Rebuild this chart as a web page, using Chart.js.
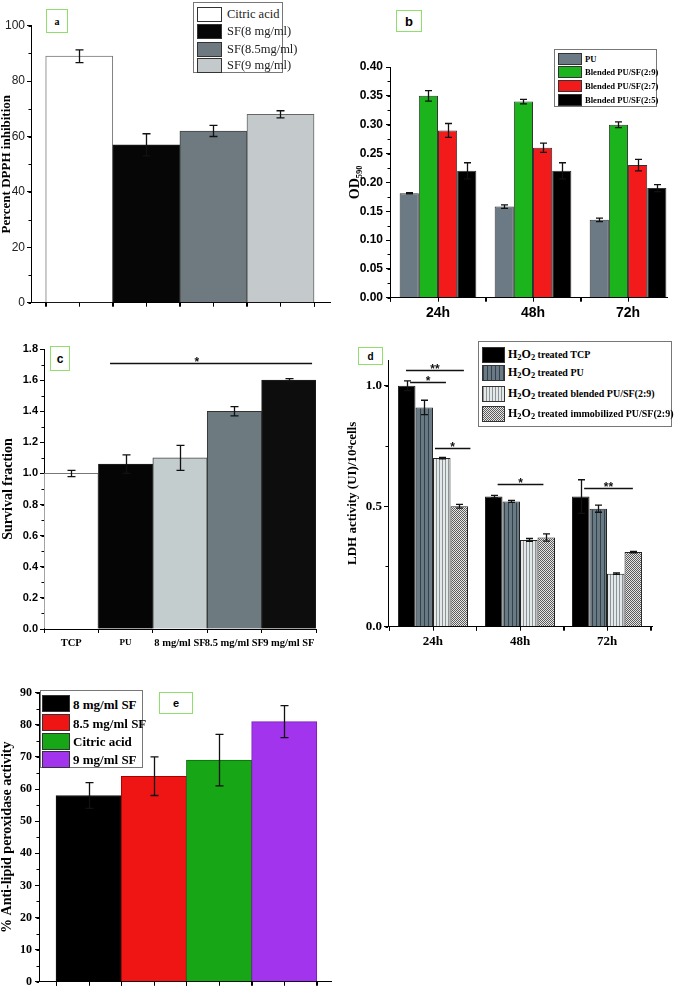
<!DOCTYPE html>
<html>
<head>
<meta charset="utf-8">
<script src="https://cdn.jsdelivr.net/npm/chart.js@4.4.1/dist/chart.umd.min.js"></script>
<style>
body{margin:0;background:#fff;}
#page{position:relative;width:682px;height:992px;overflow:hidden;background:#fff;}
canvas{position:absolute;}
.tag{position:absolute;border:1.5px solid #8fdf6c;background:#fff;box-sizing:border-box;display:flex;align-items:center;justify-content:center;font-weight:bold;}
.leg{position:absolute;border:1px solid #777;background:#fff;box-sizing:border-box;}
.sw{position:absolute;box-sizing:border-box;border:1px solid #333;}
.lt{position:absolute;white-space:nowrap;font-family:"Liberation Serif","Times New Roman",serif;transform:translateY(-50%);line-height:1;}
.lt sub{font-size:70%;vertical-align:-0.25em;}
.h2{font-size:12px;}
</style>
</head>
<body>
<div id="page"></div>
<script>
// ---- panel a: DPPH
const aLabels=['Citric acid','SF(8 mg/ml)','SF(8.5mg/ml)','SF(9 mg/ml)']
const aValues=[89,57,62,68]
const aErrors=[2.3,4,2,1.3]
const aColors=['#ffffff','#060606','#6f7a80','#c4cacb']

// ---- panel b: OD590
const bTimes=['24h','48h','72h']
const bSeries=['PU','Blended PU/SF(2:9)','Blended PU/SF(2:7)','Blended PU/SF(2:5)']
const bPU=[0.181,0.158,0.135]
const bPU29=[0.350,0.340,0.300]
const bPU27=[0.290,0.260,0.230]
const bPU25=[0.220,0.220,0.190]
const bErrPU=[0.001,0.003,0.003]
const bErr29=[0.009,0.004,0.005]
const bErr27=[0.012,0.008,0.010]
const bErr25=[0.014,0.014,0.006]
const bColors=['#6b7a84','#1cb41c','#f21a1a','#000000']

// ---- panel c: survival
const cLabels=['TCP','PU','8 mg/ml SF','8.5 mg/ml SF','9 mg/ml SF']
const cValues=[1.00,1.06,1.10,1.40,1.60]
const cErrors=[0.02,0.06,0.08,0.03,0.01]
const cColors=['#ffffff','#050505','#c3cdce','#6d7a80','#0d0d0d']
const cSig=[{x1:0.714,x2:4.428,y:1.71,text:'*',tx:2.31}]

// ---- panel d: LDH
const dTimes=['24h','48h','72h']
const dSeries=['H2O2 treated TCP','H2O2 treated PU','H2O2 treated blended PU/SF(2:9)','H2O2 treated immobilized PU/SF(2:9)']
const dTCP=[1.00,0.54,0.54]
const dPU=[0.91,0.52,0.49]
const dBlend=[0.70,0.36,0.22]
const dImmob=[0.50,0.37,0.31]
const dErrTCP=[0.02,0.005,0.07]
const dErrPU=[0.03,0.004,0.015]
const dErrBlend=[0.003,0.006,0.003]
const dErrImmob=[0.008,0.015,0.003]
const dSig=[
  {x1:-0.31,x2:0.355,y:1.065,text:'**'},
  {x1:-0.263,x2:0.149,y:1.017,text:'*'},
  {x1:0.023,x2:0.43,y:0.741,text:'*'},
  {x1:0.743,x2:1.269,y:0.592,text:'*'},
  {x1:1.737,x2:2.297,y:0.575,text:'**'}
]

// ---- panel e: anti-lipid peroxidase
const eLabels=['8 mg/ml SF','8.5 mg/ml SF','Citric acid','9 mg/ml SF']
const eValues=[58,64,69,81]
const eErrors=[4,6,8,5]
const eColors=['#000000','#f01515','#16a616','#a234ee']

const serif='"Liberation Serif","Times New Roman",serif'
const sans='"Liberation Sans",Arial,sans-serif'
const page=document.getElementById('page')

function pattern(w,h,draw){
  const c=document.createElement('canvas'); c.width=w; c.height=h
  draw(c.getContext('2d')); return c
}
const puTile=pattern(4,4,g=>{g.fillStyle='#6a7a84';g.fillRect(0,0,4,4);g.fillStyle='#33414a';g.fillRect(0,0,1,4)})
const blTile=pattern(3,3,g=>{g.fillStyle='#e4e8e8';g.fillRect(0,0,3,3);g.fillStyle='#8c9595';g.fillRect(0,0,1,3)})
const imTile=pattern(2,2,g=>{g.fillStyle='#e6e6e6';g.fillRect(0,0,2,2);g.fillStyle='#5c5c5c';g.fillRect(0,0,1,1);g.fillRect(1,1,1,1)})
const tmp=document.createElement('canvas').getContext('2d')
const dFills=['#000000',tmp.createPattern(puTile,'repeat'),tmp.createPattern(blTile,'repeat'),tmp.createPattern(imTile,'repeat')]
const dCss=['#000',`url(${puTile.toDataURL()})`,`url(${blTile.toDataURL()})`,`url(${imTile.toDataURL()})`]

// error bars drawn from dataset.errors
const errorBars={id:'errorBars',afterDatasetsDraw(chart,args,opts){
  const ctx=chart.ctx, y=chart.scales.y, cap=opts.cap||3.5
  chart.data.datasets.forEach((ds,i)=>{
    if(!ds.errors) return
    chart.getDatasetMeta(i).data.forEach((bar,j)=>{
      const v=ds.data[j].y, e=ds.errors[j]
      const t=y.getPixelForValue(v+e), b=y.getPixelForValue(v-e)
      const x=Math.round(bar.x)+0.5
      ctx.save(); ctx.strokeStyle='#111'; ctx.lineWidth=1.3
      ctx.beginPath()
      ctx.moveTo(x,t); ctx.lineTo(x,b)
      ctx.moveTo(x-cap,t); ctx.lineTo(x+cap,t)
      ctx.moveTo(x-cap,b); ctx.lineTo(x+cap,b)
      ctx.stroke(); ctx.restore()
    })
  })
}}

// small unlabelled ticks on both axes
const minorTicks={id:'minorTicks',afterDraw(chart,args,opts){
  const ctx=chart.ctx, a=chart.chartArea
  ctx.save(); ctx.strokeStyle='#000'; ctx.lineWidth=1
  if(opts.step){
    const y=chart.scales.y
    for(let i=0;i*opts.step<=y.max+1e-9;i++){
      const py=Math.round(y.getPixelForValue(i*opts.step))+0.5
      ctx.beginPath(); ctx.moveTo(a.left,py); ctx.lineTo(a.left-2.5,py); ctx.stroke()
    }
  }
  if(opts.xstep){
    const x=chart.scales.x
    for(let v=Math.ceil(x.min/opts.xstep)*opts.xstep;v<=x.max+1e-9;v+=opts.xstep){
      const px=Math.round(x.getPixelForValue(v))+0.5
      ctx.beginPath(); ctx.moveTo(px,a.bottom); ctx.lineTo(px,a.bottom+4); ctx.stroke()
    }
  }
  ctx.restore()
}}

const sigLines={id:'sigLines',afterDraw(chart,args,opts){
  const x=chart.scales.x, y=chart.scales.y, ctx=chart.ctx
  ;(opts.lines||[]).forEach(l=>{
    const x1=x.getPixelForValue(l.x1), x2=x.getPixelForValue(l.x2), py=Math.round(y.getPixelForValue(l.y))+0.5
    ctx.save(); ctx.strokeStyle='#111'; ctx.lineWidth=1.4
    ctx.beginPath(); ctx.moveTo(x1,py); ctx.lineTo(x2,py); ctx.stroke()
    ctx.fillStyle='#111'; ctx.font='bold 12px '+sans; ctx.textAlign='center'; ctx.textBaseline='alphabetic'
    const tx=l.tx!==undefined?x.getPixelForValue(l.tx):(x1+x2)/2
    ctx.fillText(l.text,tx,py+2)
    ctx.restore()
  })
}}

// ticks at exact multiples of step inside [min,max]
function stepTicks(step){
  return s=>{
    const t=[]
    for(let k=Math.ceil(s.min/step-1e-9);k*step<=s.max+1e-9;k++) t.push({value:Math.round(k*step*1e6)/1e6})
    s.ticks=t
  }
}

function barChart(id,rect,area,datasets,o){
  const cv=document.createElement('canvas')
  cv.id=id; cv.width=rect.w; cv.height=rect.h
  cv.style.left=rect.x+'px'; cv.style.top=rect.y+'px'
  cv.style.width=rect.w+'px'; cv.style.height=rect.h+'px'
  page.appendChild(cv)
  const yw=area.l-rect.x, xh=rect.y+rect.h-area.b
  const axisGrid={display:true,drawOnChartArea:false,tickLength:4,color:'#000'}
  const axisBorder={display:true,color:'#000',width:1}
  return new Chart(cv,{
    type:'bar',
    data:{datasets},
    options:{
      responsive:false,animation:false,devicePixelRatio:1,
      layout:{padding:{left:0,bottom:0,top:area.t-rect.y,right:rect.x+rect.w-area.r}},
      datasets:{bar:{barPercentage:1,categoryPercentage:o.catPct||1}},
      plugins:{
        legend:{display:false},tooltip:{enabled:false},
        errorBars:{cap:o.cap},minorTicks:{step:o.minor,xstep:o.xminor},sigLines:{lines:o.sig||[]}
      },
      scales:{
        x:{type:'linear',min:o.xmin,max:o.xmax,offset:false,grid:axisGrid,border:axisBorder,
          afterBuildTicks:stepTicks(1),afterFit:s=>{s.height=xh},
          ticks:{autoSkip:false,maxRotation:0,minRotation:0,padding:o.xpad||2,color:'#000',
            font:o.xfont||{size:12},
            callback:v=>o.xlabels?(o.xlabels[Math.round(v)]||''):''}},
        y:{min:0,max:o.ymax,grid:axisGrid,border:axisBorder,
          afterBuildTicks:stepTicks(o.ystep),afterFit:s=>{s.width=yw},
          ticks:{padding:o.ypad,color:o.ycolor||'#000',font:o.yfont,callback:o.yfmt},
          title:{display:true,text:o.ytitle,color:'#000',font:{family:serif,weight:'bold',size:o.tsize||13,lineHeight:1},
            padding:{top:o.tpad,bottom:0}}}
      }
    },
    plugins:[errorBars,minorTicks,sigLines]
  })
}

function pts(vals){return vals.map((v,i)=>({x:i,y:v}))}

function legend(box,labels,fills,s){
  const d=document.createElement('div'); d.className='leg'
  Object.assign(d.style,{left:box.x+'px',top:box.y+'px',width:box.w+'px',height:box.h+'px'})
  labels.forEach((t,i)=>{
    const sw=document.createElement('div'); sw.className='sw'
    Object.assign(sw.style,{left:s.swX+'px',top:(s.rows[i]-s.swH/2)+'px',width:s.swW+'px',height:s.swH+'px',background:fills[i]})
    const tx=document.createElement('div'); tx.className='lt'
    Object.assign(tx.style,{left:s.textX+'px',top:s.rows[i]+'px',fontSize:s.size+'px',fontWeight:s.weight,color:s.color||'#000'})
    tx.innerHTML=t.replace(/H2O2/g,'<span class="h2">H<sub>2</sub>O<sub>2</sub></span>')
    d.appendChild(sw); d.appendChild(tx)
  })
  page.appendChild(d)
}

function tag(letter,x,y,w,h,font){
  const d=document.createElement('div'); d.className='tag'; d.textContent=letter
  Object.assign(d.style,{left:x+'px',top:y+'px',width:w+'px',height:h+'px',font:font})
  page.appendChild(d)
}

// a
barChart('ca',{x:0,y:0,w:340,h:330},{l:31,t:25.7,r:330,b:302.7},
  [{data:pts(aValues),errors:aErrors,backgroundColor:aColors,borderColor:['#777','#222','#444','#666'],borderWidth:1}],
  {xmin:-0.719,xmax:3.738,xminor:0.5,ymax:100,ystep:20,minor:10,cap:4,ypad:2,ycolor:'#222',
   yfont:{family:sans,size:12},yfmt:v=>v,ytitle:'Percent DPPH inhibition',tpad:0})

// b
const bVals=[bPU,bPU29,bPU27,bPU25], bErrs=[bErrPU,bErr29,bErr27,bErr25]
barChart('cb',{x:340,y:0,w:342,h:330},{l:390,t:67,r:667,b:297.7},
  bSeries.map((s,i)=>({label:s,data:pts(bVals[i]),errors:bErrs[i],backgroundColor:bColors[i],borderColor:'#333',borderWidth:1})),
  {xmin:-0.505,xmax:2.41,xminor:0.5,xlabels:bTimes,xfont:{family:sans,weight:'bold',size:14},xpad:3,catPct:0.807,
   ymax:0.4,ystep:0.05,minor:0.025,cap:3.5,ypad:3,yfont:{family:sans,weight:'bold',size:12},
   yfmt:v=>v.toFixed(2),ytitle:'OD\u2085\u2089\u2080',tpad:8,tsize:14})

// c  (the PU label is set smaller, as in the figure)
barChart('cc',{x:0,y:330,w:340,h:330},{l:44,t:349,r:316,b:629},
  [{data:pts(cValues),errors:cErrors,backgroundColor:cColors,borderColor:['#777','#222','#444','#333','#222'],borderWidth:1}],
  {xmin:-0.5,xmax:4.5,xlabels:cLabels,xpad:4,
   xfont:ctx=>({family:serif,weight:'bold',size:(ctx.tick&&Math.round(ctx.tick.value)===1)?9:10.5}),
   ymax:1.8,ystep:0.2,minor:0.1,cap:4,ypad:2,yfont:{family:sans,weight:'bold',size:11},
   yfmt:v=>v.toFixed(1),ytitle:'Survival fraction',tpad:1,tsize:14,sig:cSig})

// d
const dVals=[dTCP,dPU,dBlend,dImmob], dErrs=[dErrTCP,dErrPU,dErrBlend,dErrImmob]
barChart('cd',{x:340,y:330,w:342,h:330},{l:388,t:360,r:652,b:626.7},
  dSeries.map((s,i)=>({label:s,data:pts(dVals[i]),errors:dErrs[i],backgroundColor:dFills[i],borderColor:'#222',borderWidth:1})),
  {xmin:-0.517,xmax:2.517,xminor:0.5,xlabels:dTimes,xfont:{family:serif,weight:'bold',size:13},xpad:3,catPct:0.805,
   ymax:1.107,ystep:0.5,minor:0.25,cap:3.5,ypad:2,yfont:{family:serif,weight:'bold',size:13},
   yfmt:v=>v.toFixed(1),ytitle:'LDH activity (UI)/10\u2074cells',tpad:6,sig:dSig})

// e
barChart('ce',{x:0,y:660,w:340,h:332},{l:39,t:692.7,r:331.7,b:984},
  [{data:pts(eValues),errors:eErrors,backgroundColor:eColors,borderColor:['#111','#a00','#0a6a0a','#7a20b0'],borderWidth:1}],
  {xmin:-0.761,xmax:3.728,xminor:0.5,ymax:90,ystep:10,minor:5,cap:4,ypad:3,
   yfont:{family:serif,weight:'bold',size:12},yfmt:v=>v,ytitle:'% Anti-lipid peroxidase activity',tpad:0,tsize:14})

// legends
legend({x:193,y:2,w:90,h:71},aLabels,aColors,{swX:3,swW:25,swH:15,rows:[11,28,46,62],textX:33,size:12.5,weight:'normal',color:'#222'})
legend({x:554,y:49,w:103,h:58},bSeries,bColors,{swX:3,swW:24,swH:12,rows:[9,22,36,50],textX:30,size:8.6,weight:'bold'})
legend({x:478,y:341,w:194,h:86},dSeries,dCss,{swX:3,swW:23,swH:16,rows:[13,31,52,72],textX:29,size:10,weight:'bold'})
legend({x:40,y:690,w:103,h:78},eLabels,eColors,{swX:1,swW:28,swH:17,rows:[12.7,31.7,50,68],textX:32,size:13,weight:'bold'})

// panel letters
tag('a',46,9,22,24,'bold 10px '+serif)
tag('b',396,10,26,22,'bold 13px '+sans)
tag('c',50,346,20,25,'bold 12px '+sans)
tag('d',358,347,25,18,'bold 10px '+sans)
tag('e',159,692,34,22,'bold 11px '+sans)
</script>
</body>
</html>
